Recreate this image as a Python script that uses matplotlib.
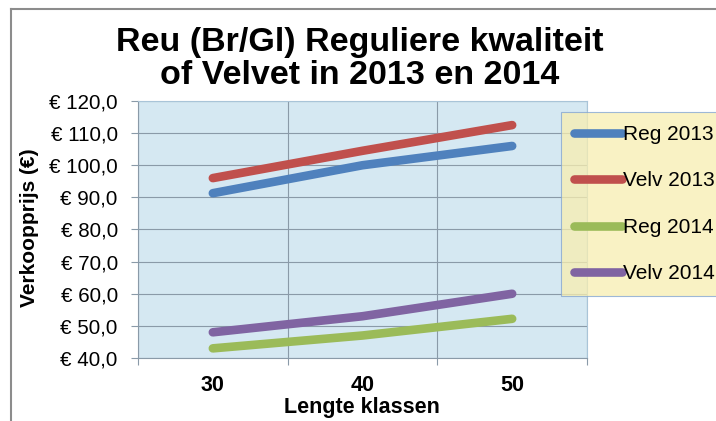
import matplotlib
matplotlib.use("Agg")
import matplotlib.pyplot as plt
from matplotlib.lines import Line2D
from matplotlib.ticker import FixedLocator, FuncFormatter, NullFormatter

plt.rcParams['font.family'] = ['Liberation Sans', 'DejaVu Sans']

categories = ["30", "40", "50"]
series_names = ["Reg 2013", "Velv 2013", "Reg 2014", "Velv 2014"]
reg_2013 = [91.3, 100.0, 106.0]
velv_2013 = [96.0, 104.5, 112.5]
reg_2014 = [43.0, 47.0, 52.2]
velv_2014 = [48.0, 53.0, 60.0]
colors = ["#4F81BD", "#C0504D", "#9BBB59", "#8064A2"]
y_ticks = [40, 50, 60, 70, 80, 90, 100, 110, 120]

W, H = 716, 421
fig = plt.figure(figsize=(W / 100, H / 100), dpi=100)
fig.patch.set_facecolor("white")

ax = fig.add_axes([138 / W, (H - 358) / H, 449 / W, 257 / H])
ax.set_facecolor("#D5E8F2")

x = list(range(len(categories)))
for vals, name, c in zip([reg_2013, velv_2013, reg_2014, velv_2014], series_names, colors):
    ax.plot(x, vals, color=c, lw=6.2, solid_capstyle="round", label=name, zorder=3)

ax.set_xlim(-0.5, len(categories) - 0.5)
ax.set_ylim(y_ticks[0], y_ticks[-1])
ax.yaxis.set_major_locator(FixedLocator(y_ticks))
ax.yaxis.set_major_formatter(FuncFormatter(lambda v, p: ("€ %.1f" % v).replace(".", ",")))
ax.xaxis.set_major_locator(FixedLocator([i - 0.5 for i in range(len(categories) + 1)]))
ax.xaxis.set_major_formatter(NullFormatter())
ax.xaxis.set_minor_locator(FixedLocator(x))
ax.set_xticklabels(categories, minor=True)
ax.tick_params(axis="x", which="major", length=5, width=0.8, color="#8A9AA8")
ax.tick_params(axis="x", which="minor", length=0, pad=12, labelsize=15.5)
for lab in ax.get_xticklabels(minor=True):
    lab.set_fontweight("bold")
ax.tick_params(axis="y", length=5, width=0.8, color="#8A9AA8", pad=9.5, labelsize=14.8)
ax.grid(True, which="major", color="#8A9AA8", lw=0.8)
ax.set_axisbelow(True)
for s in ["top", "right"]:
    ax.spines[s].set_color("#A9C4D8")
    ax.spines[s].set_linewidth(0.8)
for s in ["left", "bottom"]:
    ax.spines[s].set_color("#8A9AA8")
    ax.spines[s].set_linewidth(0.8)

ax.set_ylabel("Verkoopprijs (€)", fontsize=15, fontweight="bold", va="center")
ax.yaxis.set_label_coords((30 - 138) / 449, (358 - 228) / 257)

ax.set_xlabel("Lengte klassen", fontsize=15.5, fontweight="bold", va="center")
ax.xaxis.set_label_coords((362 - 138) / 449, -(407 - 358) / 257)

fig.text(360 / W, 1 - 59 / H, "Reu (Br/Gl) Reguliere kwaliteit\nof Velvet in 2013 en 2014",
         ha="center", va="center", fontsize=24.5, fontweight="bold", linespacing=1.12)

# legend
leg = fig.legend(loc="upper left", bbox_to_anchor=(561 / W, 1 - 112 / H),
                 fontsize=15, frameon=True, fancybox=False, handlelength=2.3,
                 handletextpad=0.05, labelspacing=1.32, borderpad=0.62, borderaxespad=0)
frame = leg.get_frame()
frame.set_facecolor("#F8EEB0")
frame.set_alpha(0.75)
frame.set_edgecolor("#7FA3D3")
frame.set_linewidth(0.8)
for h in leg.legend_handles:
    h.set_linewidth(6.2)

# chart area border
fig.add_artist(Line2D([11 / W, 11 / W], [0, 1 - 9 / H], transform=fig.transFigure, color="#8C8C8C", lw=1.5))
fig.add_artist(Line2D([11 / W, 1], [1 - 9 / H, 1 - 9 / H], transform=fig.transFigure, color="#8C8C8C", lw=1.5))

fig.savefig("out.png", dpi=100)
